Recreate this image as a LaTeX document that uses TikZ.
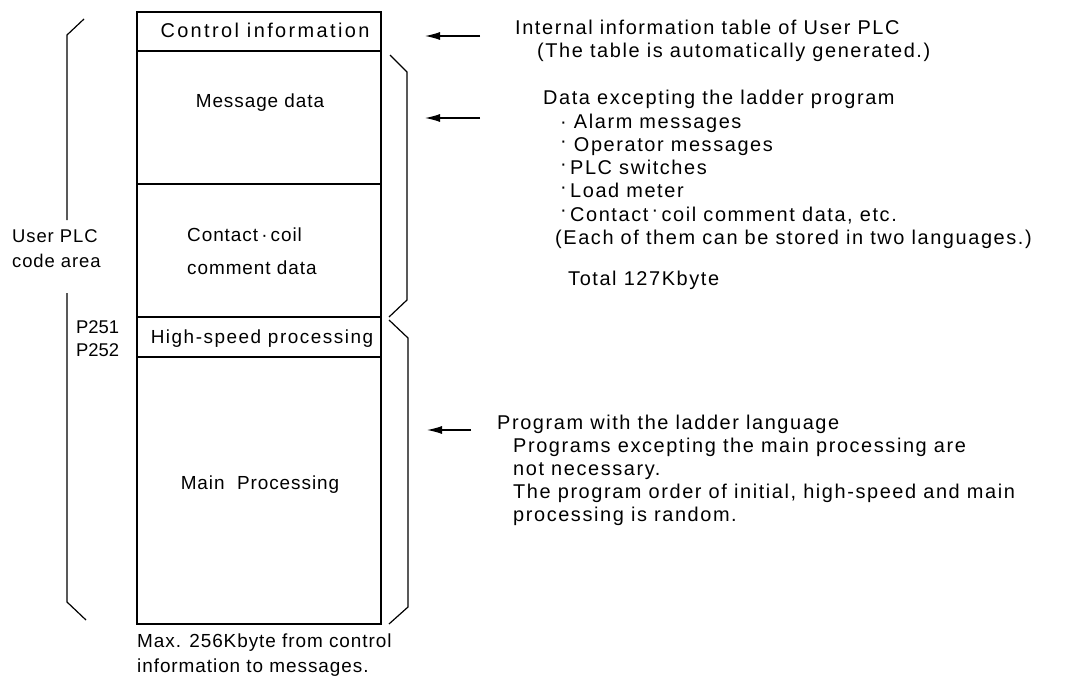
\documentclass[tikz,border=0pt]{standalone}
\usepackage{fontspec}
\setmainfont{Liberation Sans}
\newfontfamily\titlefont[LetterSpace=12]{Liberation Sans}
\newfontfamily\cellfont[LetterSpace=5]{Liberation Sans}
\newfontfamily\notefont[LetterSpace=8]{Liberation Sans}
\newfontfamily\sidefont[LetterSpace=5]{Liberation Sans}
\newcommand{\hidot}{\smash{\raisebox{0.22em}{·}}}
\usetikzlibrary{arrows.meta}
\begin{document}
\begin{tikzpicture}[x=1bp,y=-1bp,
  cell/.style={draw,line width=1.2bp,minimum width=244bp,anchor=north west,inner sep=0pt,outer sep=0pt},
  celltext/.style={font=\fontsize{19}{22}\cellfont,inner sep=0pt},
  note/.style={font=\fontsize{20}{23}\notefont,anchor=west,inner sep=0pt,text height=14bp,text depth=4bp},
  side/.style={font=\fontsize{18.5}{22}\sidefont,anchor=west,inner sep=0pt},
  rule/.style={line width=1.2bp},
  pointer/.style={line width=1.2bp,-{Latex[length=15bp,width=8bp]}}]
\useasboundingbox (0,0) rectangle (1071,684);

% memory map cells
\node[cell,minimum height=39bp]  (ctrl) at (137,12)  {};
\node[cell,minimum height=133bp] (msg)  at (137,51)  {};
\node[cell,minimum height=133bp] (coil) at (137,184) {};
\node[cell,minimum height=40bp]  (hs)   at (137,317) {};
\node[cell,minimum height=267bp] (main) at (137,357) {};

\node[inner sep=0pt,font=\fontsize{20}{24}\titlefont] (tctrl) at (265,30) {Control information};
\node[celltext] (tmsg) at (260,103) {Message data};
\node[celltext,anchor=west] (tcoil1) at (187,235) {Contact{\,}·{\,}coil};
\node[celltext,anchor=west] (tcoil2) at (187,268) {comment data};
\node[celltext,font=\fontsize{19}{22}\notefont] (ths) at (262,339) {High-speed processing};
\node[celltext] (tmain) at (260,485) {Main\ \ Processing};

% left brace: user PLC code area
\draw[rule] (84,19) -- (67,35) -- (67,220);
\draw[rule] (67,293) -- (67,602) -- (86,620);
\node[side] (lab1) at (12,236) {User PLC};
\node[side] (lab2) at (12,261) {code area};
\node[side,font=\fontsize{18.5}{22}\selectfont] (p1) at (76,327) {P251};
\node[side,font=\fontsize{18.5}{22}\selectfont] (p2) at (76,350) {P252};

% right braces
\draw[rule] (390,55) -- (407,72) -- (407,300) -- (389,317);
\draw[rule] (389,320) -- (408,338) -- (408,607) -- (389,624);

% notes on the right
\node[note] (n1) at (515,30) {Internal information table of User PLC};
\node[note] (n2) at (537,53) {(The table is automatically generated.)};

\node[note] (d0) at (543,100) {Data excepting the ladder program};
\node[note] (d1) at (560,123.2) {·{\ }Alarm messages};
\node[note] (d2) at (560,146.4) {\hidot{\ }Operator messages};
\node[note] (d3) at (560,169.6) {\hidot{\,}PLC switches};
\node[note] (d4) at (560,192.8) {\hidot{\,}Load meter};
\node[note] (d5) at (560,216) {\hidot{\,}Contact{\,}\hidot{\,}coil comment data, etc.};
\node[note] (d6) at (555,239.2) {(Each of them can be stored in two languages.)};
\node[note] (d7) at (568,280) {Total 127Kbyte};

\node[note] (p0) at (497,424) {Program with the ladder language};
\node[note] (q1) at (513,447.2) {Programs excepting the main processing are};
\node[note] (q2) at (513,470.4) {not necessary.};
\node[note] (q3) at (513,493.6) {The program order of initial, high-speed and main};
\node[note] (q4) at (513,516.8) {processing is random.};

\node[side,font=\fontsize{19}{22}\sidefont] (m1) at (137,643) {Max. 256Kbyte from control};
\node[side,font=\fontsize{19}{22}\sidefont] (m2) at (137,668) {information to messages.};

% pointers
\coordinate (a1) at (425,36);
\coordinate (a2) at (425,118);
\coordinate (a3) at (427,430);
\draw[pointer] (480,36) -- (a1);
\draw[pointer] (480,118) -- (a2);
\draw[pointer] (p0.west) ++(-26,6) coordinate (a3s) -- (a3);
\end{tikzpicture}
\end{document}
